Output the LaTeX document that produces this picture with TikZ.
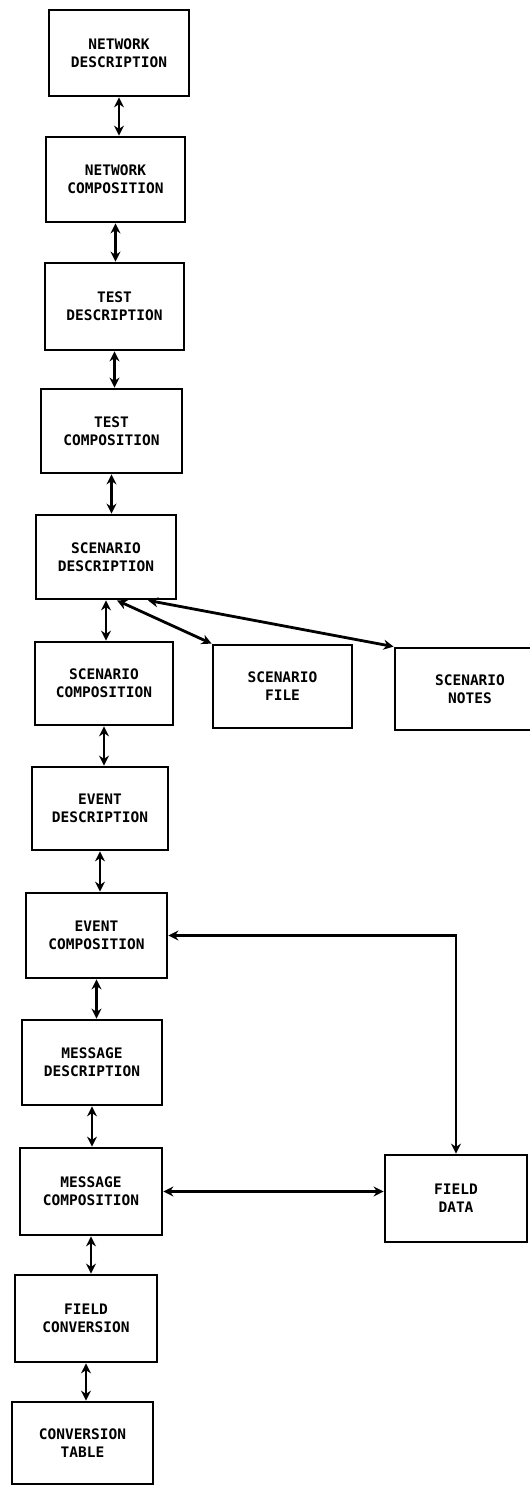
\documentclass[tikz,border=0pt]{standalone}
\usepackage{fontspec}
\setmonofont{DejaVu Sans Mono}
\usetikzlibrary{arrows.meta,calc}
\begin{document}
\begin{tikzpicture}[x=1pt,y=-1pt,
  box/.style={draw,line width=2.8pt,rectangle,inner sep=0pt,align=center,
    font=\ttfamily\bfseries\fontsize{14.5}{18}\selectfont},
  conn/.style={line width=2.8pt,{Stealth[length=10pt,width=10pt]}-{Stealth[length=10pt,width=10pt]}}]
\clip (0,0) rectangle (530,1486);
\fill[white] (0,0) rectangle (530,1486);
\node[box,minimum width=140pt,minimum height=86pt] (ND) at (119,53) {NETWORK\\DESCRIPTION};
\node[box,minimum width=139pt,minimum height=85pt] (NC) at (115.5,179.5) {NETWORK\\COMPOSITION};
\node[box,minimum width=139pt,minimum height=87pt] (TD) at (114.5,306.5) {TEST\\DESCRIPTION};
\node[box,minimum width=141pt,minimum height=84pt] (TC) at (111.5,431) {TEST\\COMPOSITION};
\node[box,minimum width=140pt,minimum height=84pt] (SD) at (106,557) {SCENARIO\\DESCRIPTION};
\node[box,minimum width=138pt,minimum height=83pt] (SC) at (104,683.5) {SCENARIO\\COMPOSITION};
\node[box,minimum width=139pt,minimum height=83pt] (SF) at (282.5,686.5) {SCENARIO\\FILE};
\node[box,minimum width=150pt,minimum height=82pt] (SN) at (470,689) {SCENARIO\\NOTES};
\node[box,minimum width=136pt,minimum height=83pt] (ED) at (100,808.5) {EVENT\\DESCRIPTION};
\node[box,minimum width=141pt,minimum height=85pt] (EC) at (96.5,935.5) {EVENT\\COMPOSITION};
\node[box,minimum width=140pt,minimum height=85pt] (MD) at (92,1062.5) {MESSAGE\\DESCRIPTION};
\node[box,minimum width=142pt,minimum height=87pt] (MC) at (91,1191.5) {MESSAGE\\COMPOSITION};
\node[box,minimum width=142pt,minimum height=87pt] (FC) at (86,1318.5) {FIELD\\CONVERSION};
\node[box,minimum width=141pt,minimum height=82pt] (CT) at (82.5,1443) {CONVERSION\\TABLE};
\node[box,minimum width=142pt,minimum height=87pt] (FD) at (456,1198.5) {FIELD\\DATA};
\draw[conn] (ND.south) -- (ND.south |- NC.north);
\draw[conn] (NC.south) -- (NC.south |- TD.north);
\draw[conn] (TD.south) -- (TD.south |- TC.north);
\draw[conn] (TC.south) -- (TC.south |- SD.north);
\draw[conn] (SD.south) -- (SD.south |- SC.north);
\draw[conn] (SC.south) -- (SC.south |- ED.north);
\draw[conn] (ED.south) -- (ED.south |- EC.north);
\draw[conn] (EC.south) -- (EC.south |- MD.north);
\draw[conn] (MD.south) -- (MD.south |- MC.north);
\draw[conn] (MC.south) -- (MC.south |- FC.north);
\draw[conn] (FC.south) -- (FC.south |- CT.north);
\draw[conn] ($(SD.south)+(11,0)$) -- (SF.north west);
\draw[conn] ($(SD.south)+(42,0)$) -- (SN.north west);
\coordinate (corner) at (FD.north |- EC.east);
\draw[conn] (EC.east) -- (corner) -- (FD.north);
\draw[conn] (MC.east) -- (MC.east -| FD.west);
\end{tikzpicture}
\end{document}
